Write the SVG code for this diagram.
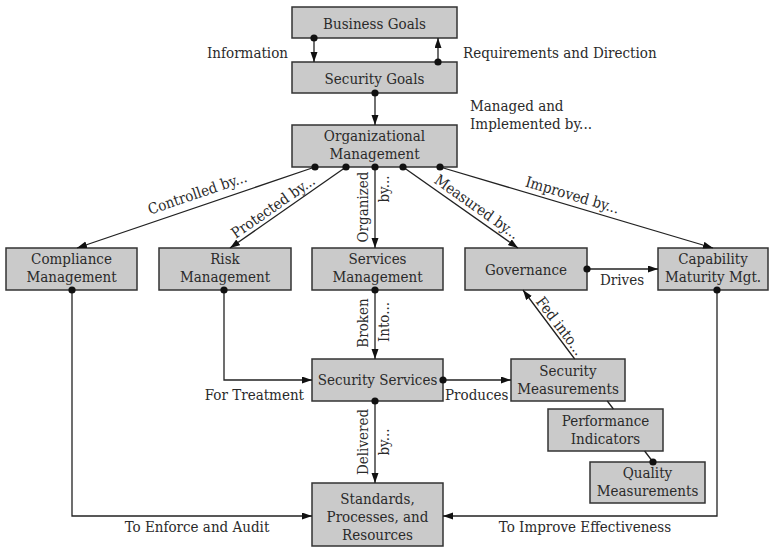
<svg xmlns="http://www.w3.org/2000/svg" width="770" height="548" viewBox="0 0 770 548">
<style>
.box{fill:#cacaca;stroke:#333;stroke-width:1.5}
text{font-family:'DejaVu Serif Condensed','DejaVu Serif',serif;font-stretch:condensed;font-size:15px;fill:#2a2a2a}
.c{text-anchor:middle}
.e{text-anchor:end}
.ln{fill:none;stroke:#222;stroke-width:1.3;marker-start:url(#dot);marker-end:url(#arr)}
</style>
<defs>
<marker id="arr" markerUnits="userSpaceOnUse" markerWidth="11" markerHeight="8" refX="10" refY="3.5" orient="auto"><path d="M0,0 L10,3.5 L0,7 z" fill="#111"/></marker>
<marker id="dot" markerUnits="userSpaceOnUse" markerWidth="9" markerHeight="9" refX="4.5" refY="4.5"><circle cx="4.5" cy="4.5" r="3.6" fill="#111"/></marker>
</defs>
<rect width="770" height="548" fill="#fff"/>

<g id="business-goals"><rect class="box" x="292" y="7" width="165" height="31"/><text class="c" x="374.5" y="28.5">Business Goals</text></g>
<g id="security-goals"><rect class="box" x="292" y="62" width="165" height="31"/><text class="c" x="374.5" y="83.5">Security Goals</text></g>
<g id="organizational-management"><rect class="box" x="292" y="125" width="165" height="42"/><text class="c" x="374.5" y="141">Organizational</text><text class="c" x="374.5" y="159">Management</text></g>
<g id="compliance-management"><rect class="box" x="6" y="248" width="131" height="42"/><text class="c" x="71.5" y="264">Compliance</text><text class="c" x="71.5" y="282">Management</text></g>
<g id="risk-management"><rect class="box" x="159" y="248" width="132" height="42"/><text class="c" x="225" y="264">Risk</text><text class="c" x="225" y="282">Management</text></g>
<g id="services-management"><rect class="box" x="312" y="248" width="131" height="42"/><text class="c" x="377.5" y="264">Services</text><text class="c" x="377.5" y="282">Management</text></g>
<g id="governance"><rect class="box" x="465" y="248" width="122" height="42"/><text class="c" x="526" y="274.5">Governance</text></g>
<g id="capability-maturity"><rect class="box" x="658" y="248" width="110" height="42"/><text class="c" x="713" y="264">Capability</text><text class="c" x="713" y="282">Maturity Mgt.</text></g>
<g id="security-services"><rect class="box" x="312" y="359" width="131" height="42"/><text class="c" x="377.5" y="385">Security Services</text></g>
<g id="security-measurements"><rect class="box" x="511" y="359" width="114" height="42"/><text class="c" x="568" y="376">Security</text><text class="c" x="568" y="394">Measurements</text></g>
<g id="performance-indicators"><rect class="box" x="548" y="409" width="115" height="42"/><text class="c" x="605.5" y="426">Performance</text><text class="c" x="605.5" y="444">Indicators</text></g>
<g id="quality-measurements"><rect class="box" x="590" y="462" width="115" height="41"/><text class="c" x="647.5" y="478">Quality</text><text class="c" x="647.5" y="496">Measurements</text></g>
<g id="standards"><rect class="box" x="312" y="483" width="131" height="63"/><text class="c" x="377.5" y="504">Standards,</text><text class="c" x="377.5" y="522">Processes, and</text><text class="c" x="377.5" y="540">Resources</text></g>

<g id="connectors">
<path class="ln" d="M314,38 V62"/>
<path class="ln" d="M438,62 V38"/>
<path class="ln" d="M375,93 V125"/>
<path class="ln" d="M315,167 L77,248"/>
<path class="ln" d="M346,167 L230,248"/>
<path class="ln" d="M375,167 V248"/>
<path class="ln" d="M403,167 L518,248"/>
<path class="ln" d="M440,167 L713,248"/>
<path class="ln" d="M587,269 H658"/>
<path class="ln" d="M72,290 V516 H312"/>
<path class="ln" d="M224,290 V380 H312"/>
<path class="ln" d="M375,290 V359"/>
<path class="ln" d="M443,380 H511"/>
<path class="ln" d="M375,401 V483"/>
<path class="ln" d="M717,290 V516 H443"/>
<path class="ln" d="M653,462 L644.6,451 M613.4,409 L607.3,401 M574.7,359 L523,290"/>

<text class="e" x="288" y="58">Information</text>
<text x="463" y="58">Requirements and Direction</text>
<text x="470" y="111">Managed and</text>
<text x="470" y="129">Implemented by...</text>
<text class="c" transform="translate(199,198) rotate(-18.8)">Controlled by...</text>
<text class="c" transform="translate(276,211) rotate(-34.9)">Protected by...</text>
<text class="c" transform="translate(368,207) rotate(-90)">Organized</text>
<text class="c" transform="translate(389,189) rotate(-90)">by...</text>
<text class="c" transform="translate(474,211) rotate(35.2)">Measured by...</text>
<text class="c" transform="translate(571,200) rotate(16.5)">Improved by...</text>
<text class="c" x="622" y="285">Drives</text>
<text class="c" transform="translate(556,329) rotate(52.8)">Fed into...</text>
<text class="c" transform="translate(368,323) rotate(-90)">Broken</text>
<text class="c" transform="translate(389,322) rotate(-90)">Into...</text>
<text class="e" x="304" y="400">For Treatment</text>
<text x="445" y="400">Produces</text>
<text class="c" transform="translate(368,442) rotate(-90)">Delivered</text>
<text class="c" transform="translate(389,442) rotate(-90)">by...</text>
<text class="c" x="197" y="532">To Enforce and Audit</text>
<text class="c" x="585" y="532">To Improve Effectiveness</text>
</g>
</svg>
